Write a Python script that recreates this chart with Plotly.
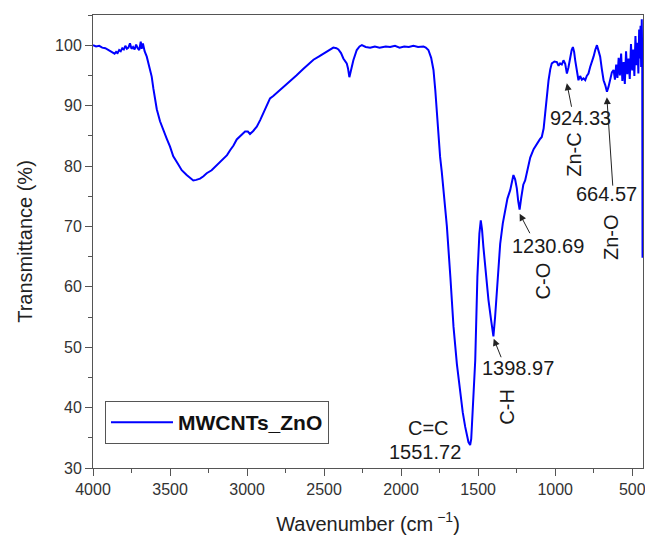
import plotly.graph_objects as go

# FTIR spectrum of MWCNTs_ZnO
wavenumber = [
    4000, 3980, 3960, 3940, 3920, 3900, 3880, 3860, 3850, 3840, 3830, 3820,
    3810, 3800, 3790, 3780, 3770, 3760, 3750, 3740, 3730, 3720, 3710, 3700,
    3690, 3684, 3676, 3665, 3651, 3635, 3619, 3608, 3597, 3586, 3565, 3543,
    3521, 3500, 3479, 3450, 3424, 3392, 3370, 3349, 3330, 3305, 3283, 3262,
    3230, 3197, 3175, 3154, 3130, 3110, 3088, 3067, 3040, 3013, 2995, 2981,
    2960, 2937, 2915, 2894, 2872, 2851, 2830, 2807, 2765, 2721, 2680, 2634,
    2600, 2569, 2535, 2504, 2470, 2440, 2420, 2407, 2390, 2375, 2353, 2345,
    2336, 2325, 2310, 2288, 2270, 2255, 2230, 2201, 2170, 2140, 2100, 2071,
    2040, 2010, 1980, 1950, 1920, 1890, 1855, 1840, 1823, 1805, 1790, 1778,
    1768, 1757, 1747, 1736, 1725, 1703, 1680, 1660, 1638, 1617, 1600, 1584,
    1570, 1563, 1552, 1545, 1541, 1530, 1519, 1505, 1492, 1483, 1475, 1466,
    1450, 1433, 1415, 1401, 1390, 1379, 1368, 1357, 1340, 1325, 1310, 1292,
    1280, 1271, 1260, 1249, 1240, 1231, 1220, 1207, 1195, 1180, 1162, 1140,
    1119, 1100, 1087, 1075, 1065, 1055, 1043, 1032, 1022, 1005, 989, 978,
    968, 957, 946, 935, 924, 914, 903, 893, 885, 877, 870, 860,
    849, 838, 827, 816, 805, 795, 784, 773, 762, 751, 740, 729,
    719, 708, 697, 686, 675, 664, 654, 643, 632, 621, 612, 604,
    596, 588, 580, 572, 564, 556, 548, 540, 532, 524, 516, 508,
    500, 493, 486, 479, 472, 466, 460, 455, 450, 446, 442, 438,
    435, 433,
]
transmittance = [
    100.0, 99.8, 99.9, 99.6, 99.5, 99.2, 98.9, 98.6, 98.9, 98.7, 99.2, 99.0,
    99.5, 99.3, 99.9, 99.4, 99.6, 100.3, 99.4, 99.7, 99.3, 100.1, 99.5, 99.2,
    100.6, 99.4, 100.3, 99.0, 98.1, 96.2, 94.8, 92.8, 90.9, 89.4, 87.4, 85.8,
    84.5, 83.2, 81.6, 80.4, 79.3, 78.5, 78.0, 77.6, 77.7, 77.9, 78.3, 78.8,
    79.3, 80.1, 80.6, 81.1, 81.8, 82.6, 83.4, 84.4, 85.1, 85.7, 85.7, 85.3,
    85.8, 86.5, 87.6, 88.8, 90.1, 91.2, 91.6, 92.1, 93.0, 94.0, 95.0, 96.1,
    96.9, 97.6, 98.1, 98.6, 99.1, 99.6, 99.5, 99.3, 98.7, 97.8, 97.0, 96.2,
    94.7, 96.0, 97.5, 99.2, 99.8, 100.0, 99.7, 99.6, 99.8, 99.6, 99.8, 99.7,
    99.9, 99.6, 99.8, 99.7, 99.9, 99.7, 99.8, 99.6, 99.2, 97.9, 95.9, 92.5,
    88.7, 85.0, 81.5, 79.0, 76.0, 70.0, 61.5, 53.4, 47.2, 42.3, 39.2, 36.8,
    35.2, 34.3, 33.8, 34.8, 36.8, 41.5, 47.8, 61.6, 68.8, 71.0, 69.5, 66.6,
    62.0, 57.8, 54.3, 51.8, 55.0, 58.9, 63.5, 67.1, 70.5, 72.7, 74.6, 76.0,
    77.6, 78.5, 77.8, 76.3, 74.2, 72.8, 74.8, 76.9, 77.6, 79.4, 81.4, 82.8,
    83.7, 84.4, 84.8, 86.2, 88.7, 91.4, 94.2, 96.0, 97.0, 97.3, 97.2, 96.6,
    97.0, 96.8, 97.5, 96.9, 95.3, 96.3, 98.1, 99.2, 99.7, 98.9, 97.5, 95.6,
    94.2, 94.9, 94.3, 94.5, 94.2, 94.9, 95.3, 96.4, 97.2, 98.1, 99.2, 100.0,
    99.1, 98.1, 96.0, 94.2, 93.4, 92.3, 93.1, 94.2, 95.5, 95.9, 94.3, 96.8,
    94.6, 97.9, 95.0, 98.6, 94.1, 97.2, 93.6, 99.0, 95.2, 97.8, 94.4, 100.2,
    95.8, 99.3, 94.9, 101.5, 96.7, 100.4, 95.3, 102.6, 97.8, 103.2, 96.4, 104.3,
    98.0, 64.8,
]

series_name = "MWCNTs_ZnO"
x_ticks = [4000, 3500, 3000, 2500, 2000, 1500, 1000, 500]
y_ticks = [30, 40, 50, 60, 70, 80, 90, 100]

# peak labels: (text, x, y, rotated)
peak_labels = [
    ("C=C", 1825, 36.6, False),
    ("1551.72", 1844, 32.6, False),
    ("1398.97", 1243, 46.6, False),
    ("C-H", 1315, 40.1, True),
    ("1230.69", 1048, 66.8, False),
    ("C-O", 1081, 61.0, True),
    ("924.33", 838, 87.9, False),
    ("Zn-C", 880, 81.8, True),
    ("664.57", 666, 75.3, False),
    ("Zn-O", 633, 68.2, True),
]
# arrows: tip (x, y) and tail pixel offset (ax, ay)
peak_arrows = [
    (1398.97, 51.4, 8, 20),
    (1230.69, 72.1, 11, 21),
    (924.33, 93.7, 5, 25),
    (664.57, 91.4, 6, 90),
]

FONT = "Arial, Liberation Sans, sans-serif"
AX = "#555555"

fig = go.Figure()
fig.add_trace(go.Scatter(
    x=wavenumber, y=transmittance, mode="lines", name=series_name,
    line=dict(color="#0000FF", width=2), showlegend=True,
))

annotations = []
for text, x, y, rot in peak_labels:
    annotations.append(dict(
        x=x, y=y, xref="x", yref="y", text=text, showarrow=False,
        textangle=-90 if rot else 0,
        font=dict(family=FONT, size=20, color="#1a1a1a"),
        xanchor="center", yanchor="middle",
    ))
for x, y, ax, ay in peak_arrows:
    annotations.append(dict(
        x=x, y=y, xref="x", yref="y", text="", showarrow=True,
        ax=ax, ay=ay, arrowhead=2, arrowsize=1.4, arrowwidth=1,
        arrowcolor="#222222",
    ))

fig.update_layout(
    width=645, height=542,
    margin=dict(l=93, r=2, t=15, b=74, autoexpand=False),
    paper_bgcolor="white", plot_bgcolor="white",
    font=dict(family=FONT, color="#333333"),
    showlegend=True,
    legend=dict(
        x=0.0218, y=0.053, xanchor="left", yanchor="bottom",
        bordercolor=AX, borderwidth=1, bgcolor="white",
        itemwidth=62, tracegroupgap=0,
        font=dict(family=FONT, size=21, color="#111111", weight="bold"),
    ),
    annotations=annotations,
    xaxis=dict(
        range=[4000, 430], tickvals=x_ticks, ticks="outside", ticklen=7,
        tickwidth=1, tickcolor=AX, showline=True, linecolor=AX, linewidth=1,
        mirror=True, showgrid=False, zeroline=False, automargin=False,
        ticklabeloverflow="allow",
        tickfont=dict(family=FONT, size=16, color="#333333"),
        minor=dict(dtick=250, tick0=0, ticks="outside", ticklen=4,
                   tickcolor=AX, showgrid=False),
        title=dict(text="Wavenumber (cm<sup> \u22121</sup>)", standoff=19,
                   font=dict(family=FONT, size=20, color="#222222")),
    ),
    yaxis=dict(
        range=[30, 105], tickvals=y_ticks, ticks="outside", ticklen=7,
        tickwidth=1, tickcolor=AX, showline=True, linecolor=AX, linewidth=1,
        mirror=True, showgrid=False, zeroline=False, automargin=False,
        tickfont=dict(family=FONT, size=16, color="#333333"),
        minor=dict(dtick=5, tick0=0, ticks="outside", ticklen=4,
                   tickcolor=AX, showgrid=False),
        title=dict(text="Transmittance (%)", standoff=17,
                   font=dict(family=FONT, size=20, color="#222222")),
    ),
)

fig.write_html("out.html")
